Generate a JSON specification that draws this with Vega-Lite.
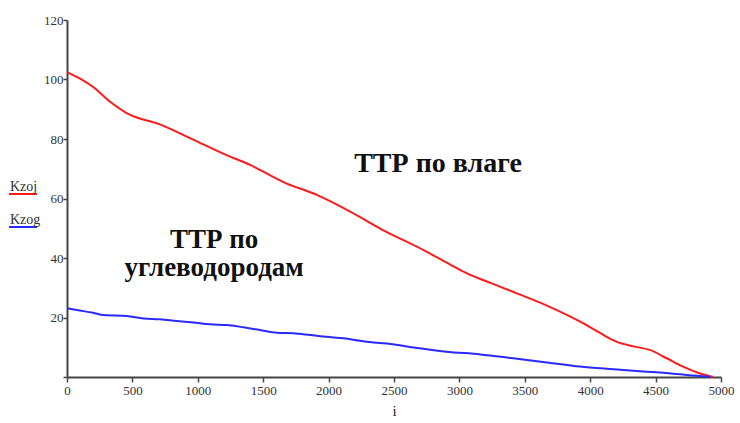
{
  "$schema": "https://vega.github.io/schema/vega-lite/v6.json",
  "width": 654,
  "height": 357,
  "autosize": {"type": "none"},
  "padding": {"left": 67, "top": 20, "right": 19, "bottom": 46},
  "background": "white",
  "config": {"view": {"stroke": null}, "font": "Liberation Serif"},
  "layer": [
    {
      "data": {
        "values": [
          {"i": 0, "K": 102.5, "s": "Kzoj"},
          {"i": 100, "K": 100.3, "s": "Kzoj"},
          {"i": 200, "K": 97.5, "s": "Kzoj"},
          {"i": 330, "K": 92.5, "s": "Kzoj"},
          {"i": 460, "K": 88.6, "s": "Kzoj"},
          {"i": 710, "K": 84.9, "s": "Kzoj"},
          {"i": 960, "K": 79.9, "s": "Kzoj"},
          {"i": 1220, "K": 74.6, "s": "Kzoj"},
          {"i": 1400, "K": 71.3, "s": "Kzoj"},
          {"i": 1475, "K": 69.6, "s": "Kzoj"},
          {"i": 1650, "K": 65.6, "s": "Kzoj"},
          {"i": 1910, "K": 61.2, "s": "Kzoj"},
          {"i": 2165, "K": 55.6, "s": "Kzoj"},
          {"i": 2415, "K": 49.4, "s": "Kzoj"},
          {"i": 2675, "K": 43.8, "s": "Kzoj"},
          {"i": 2930, "K": 37.8, "s": "Kzoj"},
          {"i": 3055, "K": 34.9, "s": "Kzoj"},
          {"i": 3180, "K": 32.6, "s": "Kzoj"},
          {"i": 3310, "K": 30.4, "s": "Kzoj"},
          {"i": 3440, "K": 28.1, "s": "Kzoj"},
          {"i": 3690, "K": 23.6, "s": "Kzoj"},
          {"i": 3945, "K": 18.1, "s": "Kzoj"},
          {"i": 4075, "K": 14.8, "s": "Kzoj"},
          {"i": 4200, "K": 11.9, "s": "Kzoj"},
          {"i": 4330, "K": 10.3, "s": "Kzoj"},
          {"i": 4455, "K": 9.1, "s": "Kzoj"},
          {"i": 4585, "K": 6.3, "s": "Kzoj"},
          {"i": 4710, "K": 3.5, "s": "Kzoj"},
          {"i": 4840, "K": 1.2, "s": "Kzoj"},
          {"i": 4940, "K": 0.0, "s": "Kzoj"},
          {"i": 0, "K": 23.1, "s": "Kzog"},
          {"i": 75, "K": 22.5, "s": "Kzog"},
          {"i": 200, "K": 21.6, "s": "Kzog"},
          {"i": 280, "K": 20.8, "s": "Kzog"},
          {"i": 455, "K": 20.5, "s": "Kzog"},
          {"i": 585, "K": 19.7, "s": "Kzog"},
          {"i": 710, "K": 19.4, "s": "Kzog"},
          {"i": 840, "K": 18.8, "s": "Kzog"},
          {"i": 965, "K": 18.3, "s": "Kzog"},
          {"i": 1095, "K": 17.7, "s": "Kzog"},
          {"i": 1220, "K": 17.5, "s": "Kzog"},
          {"i": 1350, "K": 16.7, "s": "Kzog"},
          {"i": 1475, "K": 15.8, "s": "Kzog"},
          {"i": 1605, "K": 14.9, "s": "Kzog"},
          {"i": 1730, "K": 14.7, "s": "Kzog"},
          {"i": 1860, "K": 14.1, "s": "Kzog"},
          {"i": 1985, "K": 13.5, "s": "Kzog"},
          {"i": 2115, "K": 13.0, "s": "Kzog"},
          {"i": 2240, "K": 12.2, "s": "Kzog"},
          {"i": 2370, "K": 11.5, "s": "Kzog"},
          {"i": 2470, "K": 11.1, "s": "Kzog"},
          {"i": 2650, "K": 9.9, "s": "Kzog"},
          {"i": 2900, "K": 8.5, "s": "Kzog"},
          {"i": 3160, "K": 7.6, "s": "Kzog"},
          {"i": 3410, "K": 6.3, "s": "Kzog"},
          {"i": 3670, "K": 4.9, "s": "Kzog"},
          {"i": 3920, "K": 3.5, "s": "Kzog"},
          {"i": 4180, "K": 2.6, "s": "Kzog"},
          {"i": 4430, "K": 1.8, "s": "Kzog"},
          {"i": 4560, "K": 1.4, "s": "Kzog"},
          {"i": 4690, "K": 0.9, "s": "Kzog"},
          {"i": 4815, "K": 0.4, "s": "Kzog"},
          {"i": 4920, "K": 0.1, "s": "Kzog"}
        ]
      },
      "mark": {"type": "line", "strokeWidth": 2, "interpolate": "monotone"},
      "encoding": {
        "x": {
          "field": "i",
          "type": "quantitative",
          "scale": {"domain": [0, 5000], "nice": false},
          "axis": {
            "values": [0, 500, 1000, 1500, 2000, 2500, 3000, 3500, 4000, 4500, 5000],
            "format": "d",
            "grid": false,
            "title": "i",
            "titleFont": "Liberation Serif",
            "titleFontSize": 15,
            "titleFontWeight": "normal",
            "titleColor": "#222",
            "titlePadding": 6,
            "labelFont": "Liberation Serif",
            "labelFontSize": 13,
            "labelColor": "#333",
            "labelPadding": 2,
            "labelFlush": false,
            "domainColor": "#444",
            "domainWidth": 2,
            "tickColor": "#444",
            "tickWidth": 1.5,
            "tickSize": 5
          }
        },
        "y": {
          "field": "K",
          "type": "quantitative",
          "scale": {"domain": [0, 120], "nice": false},
          "axis": {
            "values": [0, 20, 40, 60, 80, 100, 120],
            "labelExpr": "datum.value == 0 ? '' : datum.label",
            "grid": false,
            "title": null,
            "labelFont": "Liberation Serif",
            "labelFontSize": 13,
            "labelColor": "#333",
            "labelPadding": 0,
            "domainColor": "#444",
            "domainWidth": 2,
            "tickColor": "#444",
            "tickWidth": 1.5,
            "tickSize": 4
          }
        },
        "color": {
          "field": "s",
          "type": "nominal",
          "scale": {"domain": ["Kzoj", "Kzog"], "range": ["#ff1a1a", "#2a2aff"]},
          "legend": {
            "orient": "none",
            "legendX": -59,
            "legendY": 159,
            "title": null,
            "symbolType": "stroke",
            "symbolSize": 784,
            "symbolStrokeWidth": 2,
            "labelBaseline": "bottom",
            "labelOffset": -28,
            "labelFont": "Liberation Serif",
            "labelFontSize": 14,
            "labelColor": "#333",
            "rowPadding": 14
          }
        }
      }
    },
    {
      "data": {"values": [{}]},
      "mark": {"type": "text", "font": "Liberation Serif", "fontWeight": "bold", "fontSize": 28, "baseline": "alphabetic", "align": "center", "color": "#111"},
      "encoding": {
        "x": {"datum": 2837, "type": "quantitative"},
        "y": {"datum": 69.0, "type": "quantitative"},
        "text": {"value": "ТТР по влаге"}
      }
    },
    {
      "data": {"values": [{}]},
      "mark": {"type": "text", "font": "Liberation Serif", "fontWeight": "bold", "fontSize": 27, "lineHeight": 28, "baseline": "alphabetic", "align": "center", "color": "#111"},
      "encoding": {
        "x": {"datum": 1125, "type": "quantitative"},
        "y": {"datum": 43.5, "type": "quantitative"},
        "text": {"value": ["ТТР по", "углеводородам"]}
      }
    }
  ]
}
